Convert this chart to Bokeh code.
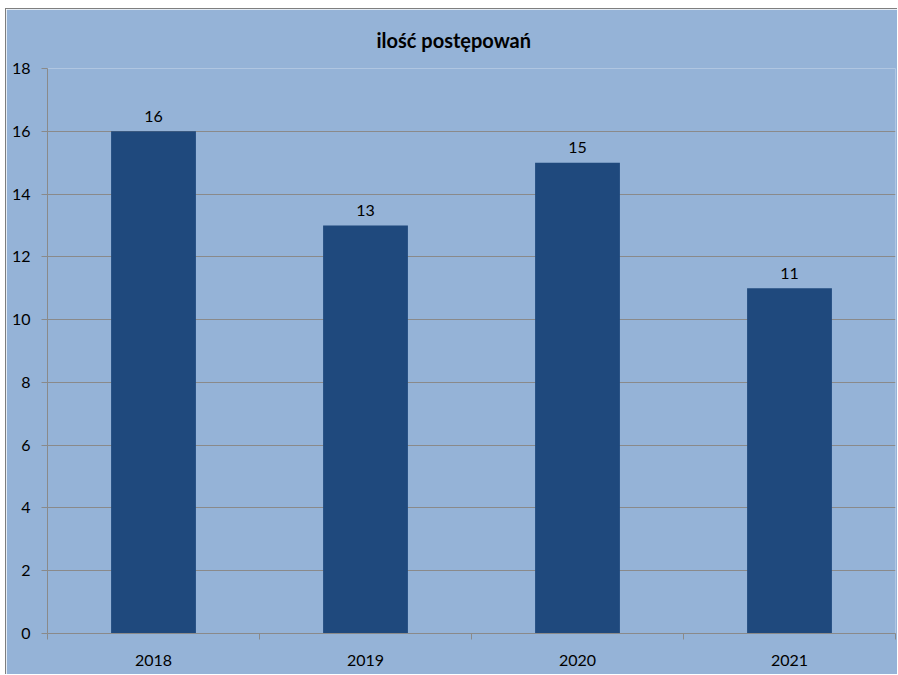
from bokeh.plotting import figure
from bokeh.models import ColumnDataSource, FixedTicker, Range1d
from bokeh.embed import file_html
from bokeh.resources import INLINE
from bokeh.core.properties import value

title_text = "ilość postępowań"
years = ["2018", "2019", "2020", "2021"]
counts = [16, 13, 15, 11]
y_ticks = [0, 2, 4, 6, 8, 10, 12, 14, 16, 18]

FONT = "Lato"
BG = "#95B3D7"
BAR = "#1F497D"
GRID = "#8A8A8A"

xs = [i + 0.5 for i in range(len(years))]
src = ColumnDataSource(dict(x=xs, top=counts, lbl=[str(c) for c in counts]))

p = figure(width=892, height=666, output_backend="svg", toolbar_location=None,
           x_range=Range1d(0, len(years)), y_range=Range1d(0, 18),
           min_border_left=41, min_border_right=3, min_border_top=59, min_border_bottom=42,
           styles={"margin-left": "5px", "margin-top": "8px",
                   "border-left": "1px solid #7F7F7F", "border-top": "1px solid #7F7F7F"})
p.background_fill_color = BG
p.border_fill_color = BG
p.outline_line_color = None

p.title.text = title_text
p.title.align = "left"
p.title.offset = 329
p.title.standoff = 33
p.title.text_font = FONT
p.title.text_font_size = "20px"
p.title.text_font_style = "bold"
p.title.text_color = "#000000"

p.vbar(x="x", top="top", width=0.4, source=src, fill_color=BAR, line_color=None)
p.text(x="x", y="top", text="lbl", source=src, text_align="center",
       text_baseline="alphabetic", y_offset=-15, text_font=value(FONT),
       text_font_size="16px", text_color="#000000")

# x axis: labels at category centres, ticks at boundaries
p.xaxis.ticker = FixedTicker(ticks=xs, minor_ticks=list(range(len(years) + 1)))
p.xaxis.major_label_overrides = {x: y for x, y in zip(xs, years)}
p.xaxis.major_tick_line_color = None
p.xaxis.minor_tick_in = 0
p.xaxis.minor_tick_out = 6
p.xaxis.minor_tick_line_color = GRID
p.xaxis.axis_line_color = GRID
p.xaxis.major_label_standoff = 15
p.xgrid.grid_line_color = None

p.yaxis.ticker = FixedTicker(ticks=y_ticks)
p.yaxis.major_tick_in = 0
p.yaxis.major_tick_out = 6
p.yaxis.major_tick_line_color = GRID
p.yaxis.minor_tick_line_color = None
p.yaxis.axis_line_color = GRID
p.yaxis.major_label_standoff = 11
p.ygrid.grid_line_color = GRID
p.ygrid.grid_line_width = 1

for ax in (p.xaxis[0], p.yaxis[0]):
    ax.major_label_text_font = FONT
    ax.major_label_text_font_size = "16px"
    ax.major_label_text_color = "#000000"

open("out.html", "w").write(file_html(p, INLINE))
